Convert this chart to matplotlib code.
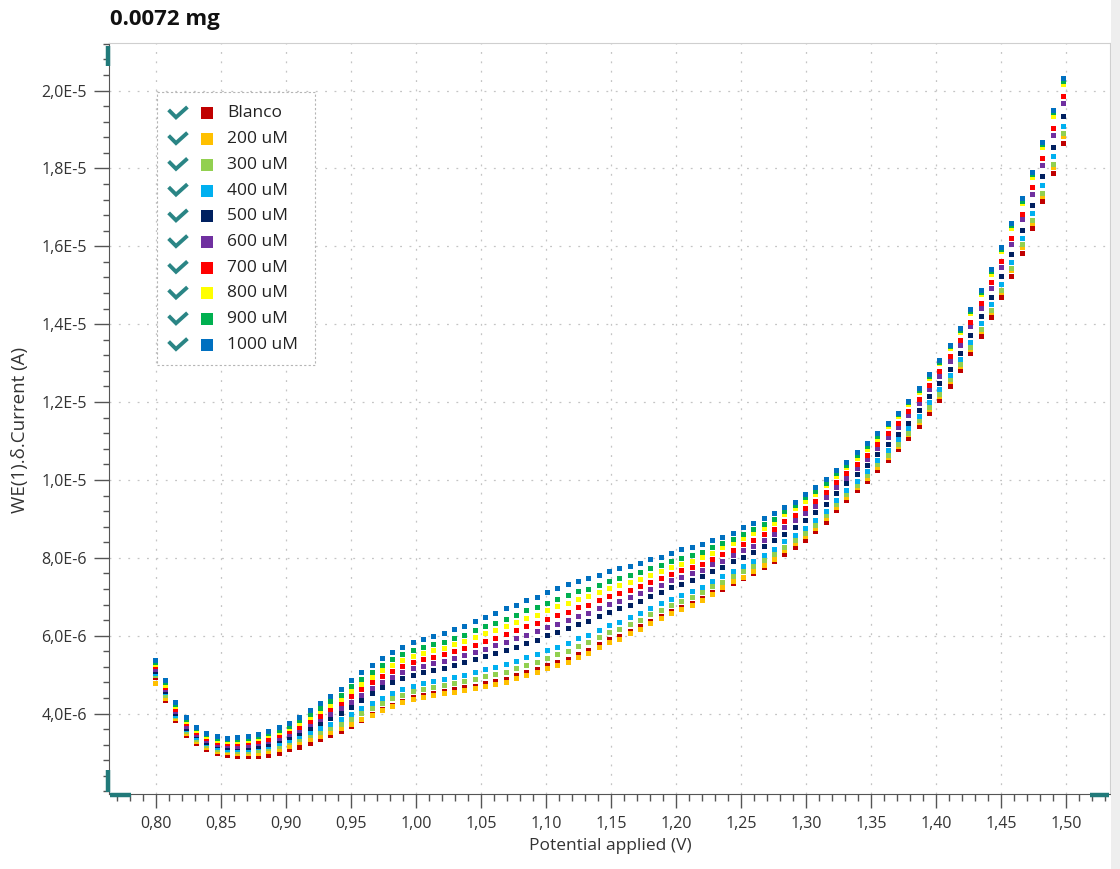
import numpy as np
import matplotlib
matplotlib.use("Agg")
import matplotlib.pyplot as plt
from matplotlib.lines import Line2D
from matplotlib.patches import Rectangle
from matplotlib.ticker import FixedLocator, MultipleLocator, FuncFormatter

plt.rcParams["font.family"] = ["Open Sans", "DejaVu Sans"]

title = "0.0072 mg"
x_label = "Potential applied (V)"
y_label = "WE(1).\u03b4.Current (A)"

labels = ["Blanco", "200 uM", "300 uM", "400 uM", "500 uM",
          "600 uM", "700 uM", "800 uM", "900 uM", "1000 uM"]
colors = ["#C00000", "#FFC000", "#92D050", "#00B0F0", "#002060",
          "#7030A0", "#FF0000", "#FFFF00", "#00B050", "#0070C0"]

# potential sweep (V)
e_start = 0.799
e_step = 0.00794
n_points = 89
potential = e_start + e_step * np.arange(n_points)

# currents in microamps
blanco = [4.95, 4.35, 3.83, 3.45, 3.24, 3.08, 2.98, 2.94, 2.91, 2.91,
          2.92, 2.94, 3.00, 3.08, 3.15, 3.24, 3.34, 3.45, 3.56, 3.68,
          3.83, 3.99, 4.12, 4.23, 4.32, 4.43, 4.49, 4.54, 4.58, 4.62,
          4.68, 4.72, 4.78, 4.83, 4.90, 4.99, 5.07, 5.14, 5.24, 5.33,
          5.41, 5.54, 5.64, 5.78, 5.92, 5.99, 6.13, 6.24, 6.39, 6.51,
          6.64, 6.74, 6.85, 6.98, 7.13, 7.19, 7.35, 7.47, 7.60, 7.76,
          7.93, 8.11, 8.29, 8.47, 8.68, 8.92, 9.22, 9.49, 9.73, 9.98,
          10.26, 10.50, 10.79, 11.07, 11.39, 11.73, 12.06, 12.42, 12.82, 13.25,
          13.70, 14.18, 14.69, 15.24, 15.84, 16.46, 17.15, 17.88, 18.65]
um200 = [4.79, 4.40, 3.88, 3.50, 3.30, 3.14, 3.05, 3.01, 2.98, 2.99,
         3.00, 3.03, 3.10, 3.18, 3.26, 3.35, 3.43, 3.53, 3.62, 3.73,
         3.86, 3.96, 4.09, 4.20, 4.29, 4.37, 4.43, 4.48, 4.52, 4.56,
         4.61, 4.65, 4.71, 4.76, 4.82, 4.91, 4.99, 5.06, 5.16, 5.25,
         5.33, 5.46, 5.56, 5.70, 5.85, 5.92, 6.06, 6.17, 6.32, 6.45,
         6.58, 6.68, 6.79, 6.92, 7.07, 7.24, 7.40, 7.52, 7.65, 7.81,
         7.98, 8.21, 8.38, 8.56, 8.77, 9.01, 9.30, 9.57, 9.81, 10.06,
         10.34, 10.60, 10.88, 11.17, 11.49, 11.83, 12.16, 12.53, 12.93, 13.36,
         13.82, 14.30, 14.82, 15.38, 15.98, 16.61, 17.30, 18.04, 18.82]
um300 = [5.00, 4.48, 3.93, 3.55, 3.35, 3.20, 3.10, 3.06, 3.04, 3.05,
         3.07, 3.11, 3.18, 3.26, 3.35, 3.44, 3.53, 3.64, 3.74, 3.87,
         4.01, 4.14, 4.28, 4.39, 4.49, 4.58, 4.64, 4.69, 4.74, 4.79,
         4.84, 4.89, 4.96, 5.02, 5.08, 5.17, 5.26, 5.33, 5.44, 5.53,
         5.61, 5.73, 5.83, 5.96, 6.10, 6.17, 6.30, 6.41, 6.55, 6.67,
         6.80, 6.90, 7.00, 7.12, 7.27, 7.39, 7.54, 7.67, 7.79, 7.95,
         8.11, 8.29, 8.46, 8.65, 8.85, 9.09, 9.38, 9.64, 9.88, 10.12,
         10.40, 10.65, 10.93, 11.21, 11.53, 11.88, 12.21, 12.58, 12.98, 13.42,
         13.88, 14.36, 14.89, 15.44, 16.05, 16.68, 17.38, 18.12, 18.90]
um400 = [5.05, 4.55, 3.97, 3.60, 3.40, 3.24, 3.14, 3.10, 3.09, 3.10,
         3.13, 3.17, 3.24, 3.33, 3.43, 3.53, 3.63, 3.74, 3.85, 3.98,
         4.14, 4.27, 4.41, 4.53, 4.63, 4.72, 4.79, 4.84, 4.89, 4.95,
         5.00, 5.07, 5.14, 5.20, 5.27, 5.36, 5.45, 5.53, 5.63, 5.72,
         5.81, 5.93, 6.02, 6.15, 6.28, 6.35, 6.48, 6.58, 6.71, 6.83,
         6.95, 7.05, 7.15, 7.26, 7.41, 7.53, 7.67, 7.80, 7.92, 8.07,
         8.23, 8.42, 8.59, 8.77, 8.97, 9.21, 9.49, 9.75, 9.98, 10.23,
         10.50, 10.76, 11.04, 11.33, 11.65, 12.00, 12.34, 12.70, 13.11, 13.55,
         14.02, 14.51, 15.04, 15.60, 16.22, 16.85, 17.57, 18.32, 19.10]
um500 = [5.10, 4.58, 4.01, 3.64, 3.44, 3.28, 3.19, 3.15, 3.14, 3.15,
         3.18, 3.23, 3.31, 3.40, 3.50, 3.62, 3.75, 3.89, 4.02, 4.18,
         4.36, 4.52, 4.67, 4.80, 4.91, 5.00, 5.07, 5.13, 5.18, 5.25,
         5.32, 5.39, 5.48, 5.55, 5.63, 5.72, 5.82, 5.89, 6.01, 6.10,
         6.19, 6.30, 6.38, 6.50, 6.62, 6.70, 6.80, 6.90, 7.03, 7.13,
         7.25, 7.34, 7.44, 7.54, 7.67, 7.77, 7.91, 8.03, 8.15, 8.30,
         8.45, 8.62, 8.78, 8.97, 9.17, 9.39, 9.67, 9.91, 10.15, 10.39,
         10.66, 10.91, 11.19, 11.47, 11.79, 12.15, 12.49, 12.86, 13.27, 13.72,
         14.20, 14.70, 15.24, 15.81, 16.42, 17.07, 17.80, 18.56, 19.35]
um600 = [5.14, 4.62, 4.06, 3.69, 3.48, 3.33, 3.23, 3.19, 3.18, 3.20,
         3.24, 3.29, 3.37, 3.47, 3.58, 3.72, 3.85, 4.00, 4.15, 4.31,
         4.49, 4.66, 4.82, 4.95, 5.06, 5.16, 5.23, 5.30, 5.35, 5.43,
         5.50, 5.58, 5.67, 5.75, 5.84, 5.93, 6.03, 6.11, 6.22, 6.31,
         6.41, 6.51, 6.59, 6.71, 6.82, 6.90, 6.99, 7.09, 7.21, 7.30,
         7.42, 7.51, 7.60, 7.69, 7.83, 7.93, 8.06, 8.19, 8.31, 8.45,
         8.60, 8.80, 8.96, 9.15, 9.34, 9.56, 9.82, 10.06, 10.30, 10.54,
         10.81, 11.09, 11.36, 11.66, 11.98, 12.33, 12.68, 13.06, 13.47, 13.94,
         14.42, 14.93, 15.48, 16.06, 16.69, 17.35, 18.09, 18.87, 19.67]
um700 = [5.22, 4.68, 4.12, 3.75, 3.53, 3.37, 3.28, 3.24, 3.24, 3.26,
         3.30, 3.36, 3.44, 3.54, 3.66, 3.81, 3.95, 4.11, 4.27, 4.44,
         4.63, 4.81, 4.97, 5.10, 5.22, 5.33, 5.39, 5.46, 5.52, 5.61,
         5.68, 5.77, 5.87, 5.95, 6.04, 6.14, 6.24, 6.32, 6.44, 6.53,
         6.62, 6.73, 6.80, 6.92, 7.02, 7.10, 7.18, 7.28, 7.39, 7.48,
         7.59, 7.68, 7.77, 7.85, 7.98, 8.09, 8.21, 8.35, 8.46, 8.60,
         8.74, 8.94, 9.10, 9.29, 9.47, 9.69, 9.95, 10.18, 10.42, 10.65,
         10.92, 11.20, 11.47, 11.76, 12.08, 12.44, 12.79, 13.18, 13.59, 14.06,
         14.55, 15.07, 15.63, 16.21, 16.84, 17.51, 18.26, 19.05, 19.85]
um800 = [5.28, 4.74, 4.19, 3.81, 3.58, 3.42, 3.33, 3.29, 3.29, 3.32,
         3.37, 3.44, 3.52, 3.62, 3.75, 3.91, 4.06, 4.23, 4.38, 4.58,
         4.77, 4.95, 5.12, 5.26, 5.38, 5.49, 5.56, 5.63, 5.69, 5.78,
         5.86, 5.97, 6.06, 6.15, 6.25, 6.35, 6.46, 6.53, 6.66, 6.75,
         6.84, 6.94, 7.01, 7.12, 7.22, 7.30, 7.38, 7.46, 7.57, 7.65,
         7.76, 7.85, 7.93, 8.01, 8.13, 8.27, 8.38, 8.52, 8.63, 8.76,
         8.90, 9.12, 9.27, 9.46, 9.64, 9.86, 10.10, 10.32, 10.56, 10.80,
         11.06, 11.38, 11.65, 11.94, 12.26, 12.63, 12.99, 13.38, 13.79, 14.28,
         14.77, 15.30, 15.87, 16.47, 17.11, 17.79, 18.55, 19.35, 20.17]
um900 = [5.33, 4.80, 4.25, 3.86, 3.62, 3.47, 3.38, 3.34, 3.34, 3.37,
         3.42, 3.50, 3.59, 3.69, 3.83, 4.00, 4.15, 4.33, 4.49, 4.70,
         4.89, 5.08, 5.25, 5.40, 5.52, 5.63, 5.70, 5.78, 5.84, 5.94,
         6.02, 6.14, 6.24, 6.33, 6.44, 6.54, 6.65, 6.73, 6.85, 6.94,
         7.04, 7.14, 7.20, 7.31, 7.40, 7.48, 7.55, 7.63, 7.73, 7.81,
         7.91, 8.00, 8.08, 8.15, 8.27, 8.38, 8.49, 8.62, 8.74, 8.86,
         9.00, 9.21, 9.35, 9.55, 9.72, 9.93, 10.18, 10.39, 10.63, 10.86,
         11.12, 11.43, 11.69, 11.99, 12.31, 12.68, 13.04, 13.43, 13.85, 14.33,
         14.83, 15.36, 15.94, 16.54, 17.17, 17.86, 18.63, 19.44, 20.25]
um1000 = [5.38, 4.86, 4.31, 3.92, 3.66, 3.51, 3.42, 3.38, 3.39, 3.42,
          3.48, 3.56, 3.65, 3.76, 3.90, 4.09, 4.26, 4.45, 4.63, 4.85,
          5.06, 5.26, 5.44, 5.59, 5.72, 5.84, 5.91, 5.99, 6.06, 6.17,
          6.25, 6.38, 6.49, 6.59, 6.70, 6.80, 6.92, 7.00, 7.13, 7.22,
          7.32, 7.41, 7.47, 7.57, 7.65, 7.73, 7.79, 7.87, 7.96, 8.03,
          8.13, 8.22, 8.29, 8.35, 8.47, 8.54, 8.64, 8.78, 8.89, 9.01,
          9.14, 9.30, 9.44, 9.64, 9.81, 10.02, 10.26, 10.47, 10.71, 10.94,
          11.20, 11.47, 11.73, 12.03, 12.35, 12.72, 13.08, 13.47, 13.89, 14.38,
          14.88, 15.41, 15.99, 16.59, 17.23, 17.92, 18.69, 19.50, 20.32]

series = [blanco, um200, um300, um400, um500, um600, um700, um800, um900, um1000]

W, H = 1120, 869
fig = plt.figure(figsize=(W / 100, H / 100), dpi=100, facecolor="white")


def fx(px):
    return px / W


def fy(py):
    return 1 - py / H


ax = fig.add_axes([fx(109), fy(794), fx(1110) - fx(109), fy(43) - fy(794)])
ax.set_facecolor("white")

for vals, col in zip(series, colors):
    ax.plot(potential, np.array(vals) * 1e-6, ls="none", marker="s",
            ms=3.6, mew=0, color=col, zorder=3)

ax.set_xlim(0.7638, 1.5338)
ax.set_ylim(1.935e-6, 21.22e-6)

ax.xaxis.set_major_locator(MultipleLocator(0.05))
ax.xaxis.set_minor_locator(MultipleLocator(0.01))
ax.yaxis.set_major_locator(FixedLocator(np.arange(4, 21, 2) * 1e-6))
ax.yaxis.set_minor_locator(MultipleLocator(4e-7))


def sci_comma(v, pos):
    m, e = f"{v:.1E}".split("E")
    return f"{m.replace('.', ',')}E{int(e)}"


ax.xaxis.set_major_formatter(FuncFormatter(lambda v, p: f"{v:.2f}".replace(".", ",")))
ax.yaxis.set_major_formatter(FuncFormatter(sci_comma))

ax.tick_params(which="both", direction="out", color="#555555", width=1,
               labelcolor="#333333", labelsize=11.5)
ax.tick_params(axis="x", which="major", length=10, pad=6)
ax.tick_params(axis="x", which="minor", length=5)
ax.tick_params(axis="y", which="major", length=11, pad=5)
ax.tick_params(axis="y", which="minor", length=4)

ax.grid(True, which="major", color="#c4c4c4", lw=0.9, ls=(0, (1.5, 6)))
ax.set_axisbelow(True)

for side in ["left", "bottom"]:
    ax.spines[side].set_color("#555555")
for side in ["top", "right"]:
    ax.spines[side].set_color("#cfcfcf")

ax.set_xlabel(x_label, fontsize=12.5, color="#333333")
ax.xaxis.set_label_coords((610 - 109) / (1110 - 109), -(846 - 794) / (794 - 43))
ax.xaxis.label.set_va("center")
ax.set_ylabel(y_label, fontsize=13.5, color="#333333")
ax.yaxis.set_label_coords((20 - 109) / (1110 - 109), (794 - 430) / (794 - 43))
ax.yaxis.label.set_va("center")

fig.text(fx(110), fy(20), title, fontsize=16, fontweight="bold",
         ha="left", va="center", color="#111111")

# grey strip right of the chart
fig.add_artist(Rectangle((fx(1111), 0), 1 - fx(1111), 1, transform=fig.transFigure,
                         fc="#eeeeee", ec="none"))

# teal zoom handles on the axes
teal = "#217a7a"
handles = [([108, 108], [46, 66]), ([108, 108], [770, 792]),
           ([110, 131], [795, 795]), ([1090, 1109], [795, 795])]
for hx, hy in handles:
    fig.add_artist(Line2D([fx(v) for v in hx], [fy(v) for v in hy],
                          transform=fig.transFigure, color=teal, lw=3.2,
                          solid_capstyle="butt"))

# legend box with check marks
fig.add_artist(Rectangle((fx(157), fy(365)), fx(315) - fx(157), fy(92) - fy(365),
                         transform=fig.transFigure, fc="white", ec="#b5b5b5",
                         lw=0.8, ls=(0, (2, 2)), zorder=5))
for i, (lab, col) in enumerate(zip(labels, colors)):
    yc = 113.3 + i * 25.74
    fig.add_artist(Line2D([fx(170), fx(176), fx(186)], [fy(yc - 2), fy(yc + 4), fy(yc - 5)],
                          transform=fig.transFigure, color="#2a8585", lw=2.8,
                          solid_joinstyle="miter", zorder=6))
    fig.add_artist(Line2D([fx(207)], [fy(yc)], transform=fig.transFigure,
                          marker="s", ms=9.2, mew=0, color=col, ls="none", zorder=6))
    fig.text(fx(227), fy(yc), lab, fontsize=12.5, color="#222222",
             ha="left", va="center", zorder=6)

fig.savefig("out.png", dpi=100, facecolor=fig.get_facecolor())
